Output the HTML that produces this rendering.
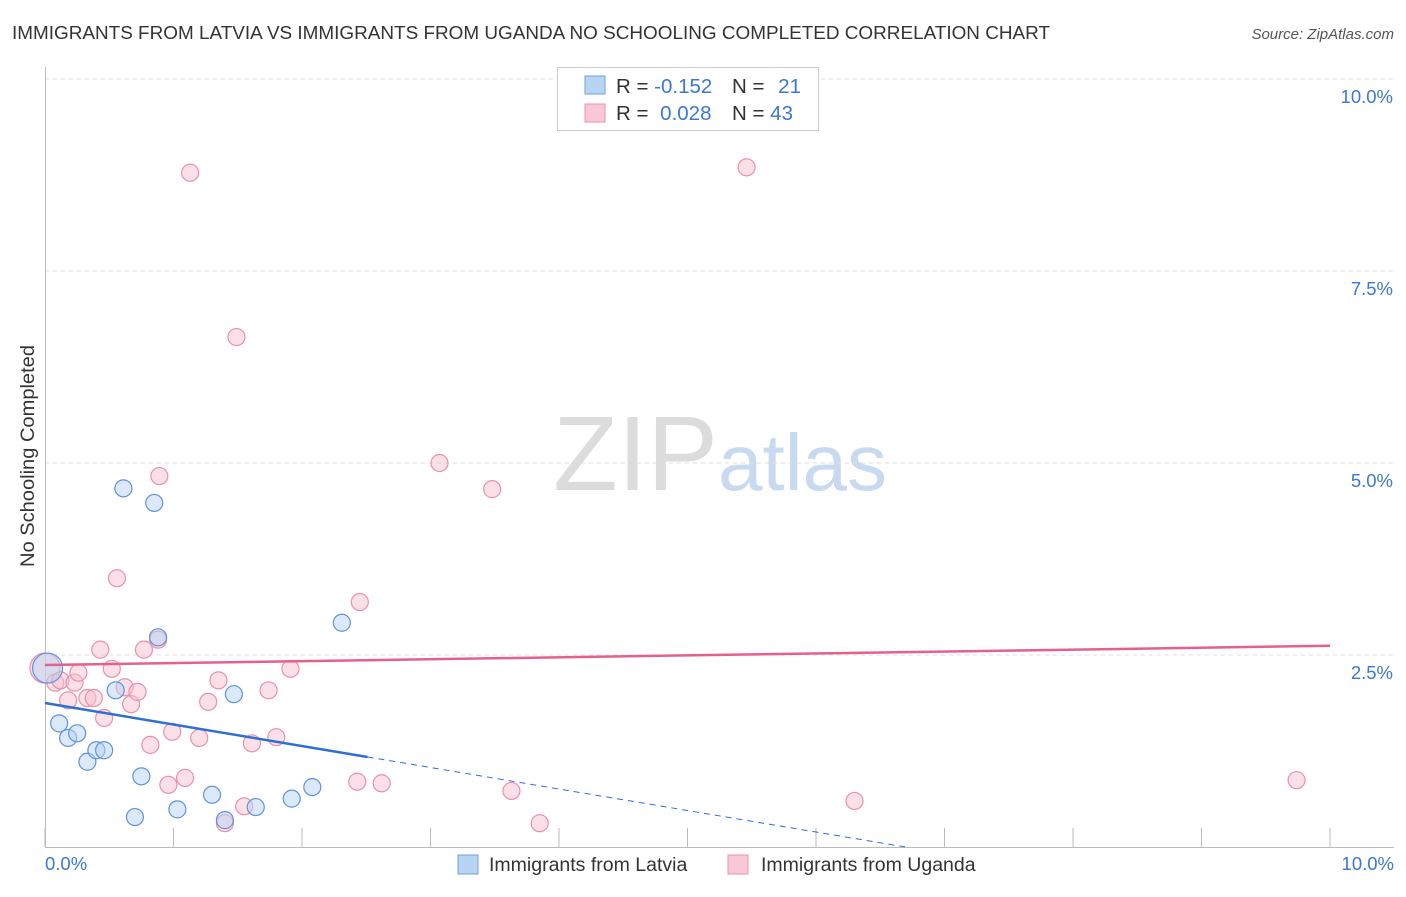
<!DOCTYPE html>
<html><head><meta charset="utf-8"><style>
body{margin:0;background:#fff;font-family:"Liberation Sans",sans-serif;}
svg text{font-family:"Liberation Sans",sans-serif;}
</style></head><body>
<svg id="c" width="1406" height="892" xmlns="http://www.w3.org/2000/svg">
<text x="12" y="39" font-size="18" fill="#333" textLength="1038" lengthAdjust="spacingAndGlyphs">IMMIGRANTS FROM LATVIA VS IMMIGRANTS FROM UGANDA NO SCHOOLING COMPLETED CORRELATION CHART</text>
<text x="1394" y="39" font-size="15" fill="#555" text-anchor="end" font-style="italic">Source: ZipAtlas.com</text>
<g>
<text x="553" y="490" font-size="106" fill="#dcdcdc" font-family="Liberation Serif,serif">ZIP</text>
<text x="718" y="490" font-size="80" fill="#c8daf0">atlas</text>
</g>
<text transform="translate(34,456) rotate(-90)" font-size="19" fill="#333" text-anchor="middle" textLength="222" lengthAdjust="spacingAndGlyphs">No Schooling Completed</text>
<g id="grid"></g><g id="ticks"></g><g id="pts"></g><g id="lines"></g>
<g>
<rect x="557.5" y="67.5" width="261" height="63" fill="#fff" stroke="#ccc"/>
<rect x="585" y="76" width="20" height="18" fill="#b8d4f5" stroke="#6fa0e0"/>
<rect x="585" y="104" width="20" height="18" fill="#f9c8d6" stroke="#ee8fab"/>
<text x="616" y="93" font-size="20.5" fill="#333">R = <tspan fill="#3a78d4">-0.152</tspan></text>
<text x="732" y="93" font-size="20.5" fill="#333">N = <tspan fill="#3a78d4" dx="8">21</tspan></text>
<text x="616" y="120" font-size="20.5" fill="#333">R = <tspan fill="#3a78d4" dx="6">0.028</tspan></text>
<text x="732" y="120" font-size="20.5" fill="#333">N = <tspan fill="#3a78d4">43</tspan></text>
</g>
<g>
<rect x="458" y="855" width="20" height="19" fill="#b8d4f5" stroke="#6fa0e0"/>
<text x="489" y="871" font-size="19.5" fill="#333">Immigrants from Latvia</text>
<rect x="728" y="855" width="20" height="19" fill="#f9c8d6" stroke="#ee8fab"/>
<text x="761" y="871" font-size="19.5" fill="#333">Immigrants from Uganda</text>
</g>
</svg>
<script>
const latviaX=[0.02,0.11,0.18,0.25,0.33,0.40,0.46,0.55,0.61,0.70,0.75,0.85,0.88,1.03,1.30,1.40,1.47,1.64,1.92,2.08,2.31];
const latviaY=[2.33,1.61,1.42,1.48,1.11,1.26,1.26,2.04,4.67,0.39,0.92,4.48,2.73,0.49,0.68,0.35,1.99,0.52,0.63,0.78,2.92];
const ugandaX=[0,0.08,0.12,0.18,0.23,0.26,0.33,0.38,0.46,0.43,0.52,0.56,0.62,0.67,0.72,0.77,0.82,0.88,0.89,0.96,0.99,1.09,1.13,1.20,1.27,1.35,1.49,1.55,1.40,1.61,1.74,1.80,1.91,2.43,2.45,2.62,3.07,3.48,3.63,3.85,5.46,6.30,9.74];
const ugandaY=[2.33,2.14,2.17,1.91,2.14,2.27,1.94,1.94,1.68,2.57,2.32,3.50,2.08,1.86,2.02,2.57,1.33,2.70,4.83,0.81,1.50,0.90,8.78,1.42,1.89,2.17,6.64,0.53,0.31,1.35,2.04,1.43,2.32,0.85,3.19,0.83,5.00,4.66,0.73,0.31,8.85,0.60,0.87];
const latviaTrend=[1.875,-0.28];
const ugandaTrend=[2.37,0.025];
const yTicks=[2.5,5.0,7.5,10.0];
const yTickLabels=["2.5%","5.0%","7.5%","10.0%"];
const xTicks=[0,1,2,3,4,5,6,7,8,9,10];
const NS="http://www.w3.org/2000/svg";
const X=v=>45+v*128.5, Y=v=>847-v*76.8;
function mk(p,t,a){const e=document.createElementNS(NS,t);for(const k in a)e.setAttribute(k,a[k]);document.getElementById(p).appendChild(e);return e;}
yTicks.forEach((v,i)=>{
 const l=mk('grid','line',{x1:45,x2:1394,y1:Y(v),y2:Y(v),stroke:'#ddd','stroke-dasharray':'4,4'});
 
 
 const t=mk('grid','text',{x:1393,y:Y(v)+24,'font-size':18.5,fill:'#3a78d4','text-anchor':'end'});
 t.textContent=yTickLabels[i];
 
 
});
const ax=mk('ticks','path',{d:'M45.5,67V847.5H1394',fill:'none',stroke:'#bbb'});


xTicks.forEach(v=>{
 const l=mk('ticks','line',{x1:X(v),x2:X(v),y1:828,y2:847,stroke:'#bbb'});
 
 
});
const x0=mk('ticks','text',{x:45,y:870,'font-size':18.5,fill:'#3a78d4'});x0.textContent='0.0%';


const x1=mk('ticks','text',{x:1394,y:870,'font-size':18.5,fill:'#3a78d4','text-anchor':'end'});x1.textContent='10.0%';


function pts(xs,ys,fill,stroke,name){xs.forEach((x,i)=>{
 const r=i===0?15:8.5;
 const c=mk('pts','circle',{cx:X(x),cy:Y(ys[i]),r:r,fill:fill,'fill-opacity':0.5,stroke:stroke,'stroke-width':1.2});
 
 
});}
pts(ugandaX,ugandaY,'#f7c1d0','#ec8fab','uganda-point');
pts(latviaX,latviaY,'#b8d4f5','#5f93da','latvia-point');
const bl=mk('lines','line',{x1:X(0),y1:Y(latviaTrend[0]),x2:X(2.51),y2:Y(latviaTrend[0]+latviaTrend[1]*2.51),stroke:'#2d6fd6','stroke-width':2.5});


const xe=-latviaTrend[0]/latviaTrend[1];
const bd=mk('lines','line',{x1:X(2.51),y1:Y(latviaTrend[0]+latviaTrend[1]*2.51),x2:X(xe),y2:Y(0),stroke:'#2d6fd6','stroke-width':1,'stroke-dasharray':'6,5'});


const pl=mk('lines','line',{x1:X(0),y1:Y(ugandaTrend[0]),x2:X(10),y2:Y(ugandaTrend[0]+ugandaTrend[1]*10),stroke:'#e4628a','stroke-width':2.5});


</script>
</body></html>
